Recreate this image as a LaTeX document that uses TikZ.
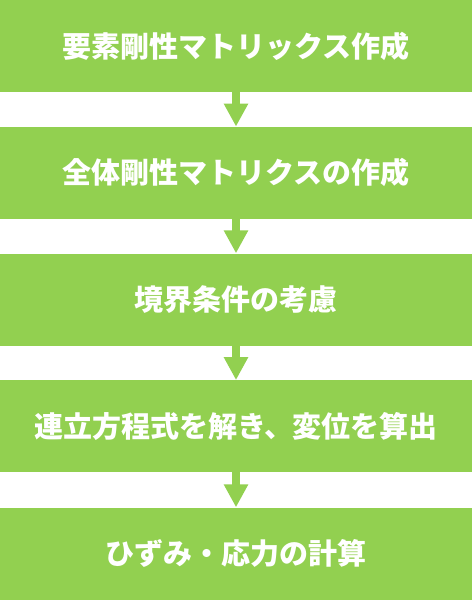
\documentclass[tikz,border=0pt]{standalone}
\usepackage{fontspec}
\newfontfamily\jp{Noto Sans CJK JP}
\usetikzlibrary{arrows.meta}
\definecolor{boxgreen}{HTML}{92D050}
\tikzset{
  stepbox/.style={fill=boxgreen, draw=none, minimum width=472pt, minimum height=92pt, inner sep=0pt,
    text=white, font=\jp\bfseries\fontsize{29pt}{32pt}\selectfont},
  flowarrow/.style={draw=boxgreen, line width=8pt, -{Triangle[width=23pt,length=23pt]}, shorten >=0pt}
}
\begin{document}
\begin{tikzpicture}[x=1pt,y=1pt]
\useasboundingbox (0,0) rectangle (472,-600);
\node[stepbox] (b1) at (236,-46) {要素剛性マトリックス作成};
\node[stepbox] (b2) at (236,-172.75) {全体剛性マトリクスの作成};
\node[stepbox] (b3) at (236,-299.5) {境界条件の考慮};
\node[stepbox] (b4) at (236,-426.25) {連立方程式を解き、変位を算出};
\node[stepbox] (b5) at (236,-553.5) {ひずみ・応力の計算};
\draw[flowarrow] (b1.south) -- (b2.north);
\draw[flowarrow] (b2.south) -- (b3.north);
\draw[flowarrow] (b3.south) -- (b4.north);
\draw[flowarrow] (b4.south) -- (b5.north);
\end{tikzpicture}
\end{document}
